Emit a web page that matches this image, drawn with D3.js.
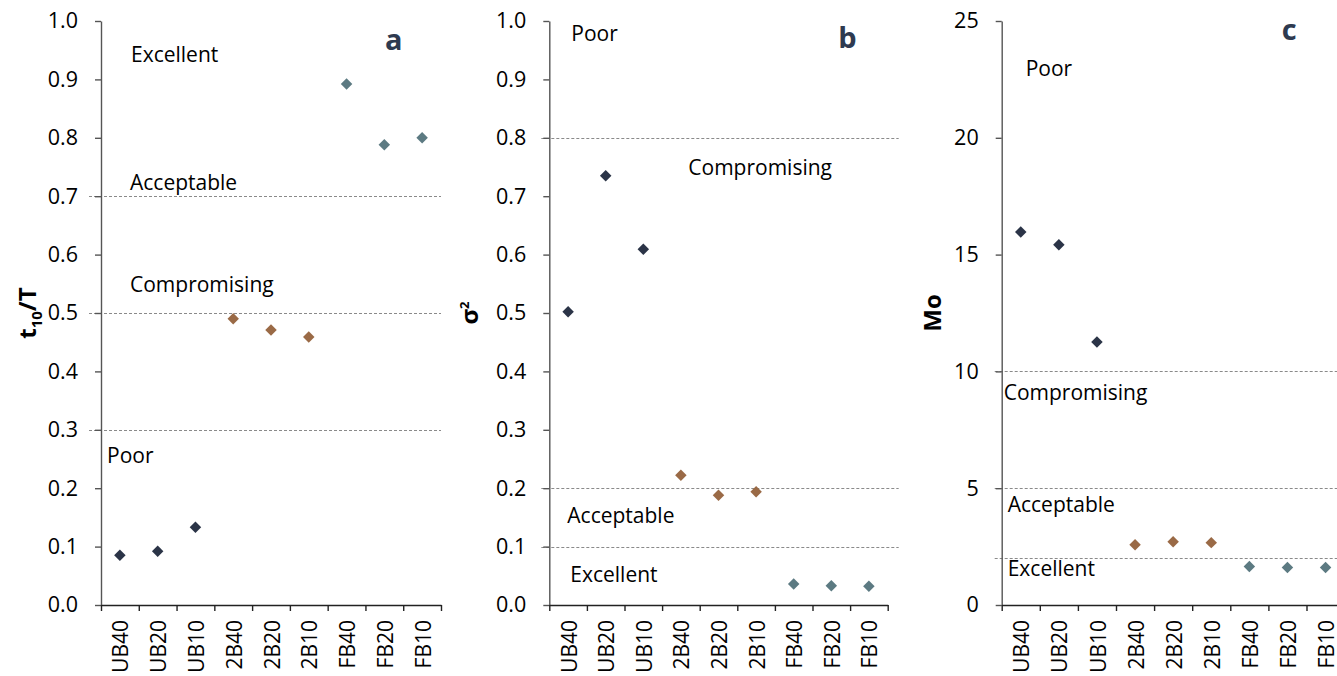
<!DOCTYPE html>
<html>
<head>
<meta charset="utf-8">
<script src="https://cdn.jsdelivr.net/npm/d3@7"></script>
<style>
  html, body { margin: 0; padding: 0; background: #fff; }
  svg { display: block; font-family: "Open Sans", "Noto Sans", sans-serif; }
</style>
</head>
<body>
<svg id="chart" width="1337" height="676"></svg>
<script>
// Sample codes along the x axis (same order in all three panels)
const categories = ["UB40", "UB20", "UB10", "2B40", "2B20", "2B10", "FB40", "FB20", "FB10"];
// Baffle configuration group for each sample
const groups = ["UB", "UB", "UB", "2B", "2B", "2B", "FB", "FB", "FB"];

// Panel a: t10/T
const t10Ratio = [0.085, 0.092, 0.133, 0.490, 0.471, 0.459, 0.892, 0.788, 0.800];
// Panel b: dimensionless variance
const variance = [0.502, 0.735, 0.609, 0.222, 0.188, 0.194, 0.036, 0.033, 0.032];
// Panel c: Morrill index
const moIndex = [15.97, 15.42, 11.26, 2.58, 2.71, 2.67, 1.65, 1.61, 1.61];

// Tick values
const ratioTicks = [0, 0.1, 0.2, 0.3, 0.4, 0.5, 0.6, 0.7, 0.8, 0.9, 1.0];
const moTicks = [0, 5, 10, 15, 20, 25];

// Class boundaries (dashed lines)
const t10Limits = [0.7, 0.5, 0.3];
const varianceLimits = [0.8, 0.2, 0.1];
const moLimits = [10, 5, 2];

// Class names and the value at which each name sits
const t10ZoneNames = ["Excellent", "Acceptable", "Compromising", "Poor"];
const t10ZoneAt = [0.930, 0.710, 0.536, 0.244];
const varianceZoneNames = ["Poor", "Compromising", "Acceptable", "Excellent"];
const varianceZoneAt = [0.965, 0.736, 0.140, 0.040];
const moZoneNames = ["Poor", "Compromising", "Acceptable", "Excellent"];
const moZoneAt = [22.66, 8.78, 3.99, 1.25];

const groupColor = { UB: "#2b3447", "2B": "#9a6a46", FB: "#5c7a82" };

const svg = d3.select("#chart");
const plotTop = 21, plotBottom = 605;

const panels = [
  {
    letter: "a", values: t10Ratio, domain: [0, 1], ticks: ratioTicks, fmt: d3.format(".1f"),
    limits: t10Limits, zoneNames: t10ZoneNames, zoneAt: t10ZoneAt,
    zoneDx: [30, 29, 29, 6], letterDx: 284, letterAt: 0.950,
    x0: 101, x1: 441, lineFrom: -12, lineTo: 0, titleX: 28, title: "t10"
  },
  {
    letter: "b", values: variance, domain: [0, 1], ticks: ratioTicks, fmt: d3.format(".1f"),
    limits: varianceLimits, zoneNames: varianceZoneNames, zoneAt: varianceZoneAt,
    zoneDx: [22, 139, 18, 21], letterDx: 289, letterAt: 0.953,
    x0: 549.3, x1: 887.7, lineFrom: -8, lineTo: 11, titleX: 470, title: "sigma"
  },
  {
    letter: "c", values: moIndex, domain: [0, 25], ticks: moTicks, fmt: d3.format("d"),
    limits: moLimits, zoneNames: moZoneNames, zoneAt: moZoneAt,
    zoneDx: [24, 2, 6, 6], letterDx: 280, letterAt: 24.19,
    x0: 1001.7, x1: 1344.6, lineFrom: -7, lineTo: 0, titleX: 933, title: "Mo"
  }
];

panels.forEach(p => {
  const g = svg.append("g");
  const y = d3.scaleLinear().domain(p.domain).range([plotBottom, plotTop]);
  const xBand = d3.scaleBand().domain(categories).range([p.x0, p.x1]);
  const xEdge = d3.scaleLinear().domain([0, categories.length]).range([p.x0, p.x1]);

  // class boundaries
  g.append("g").selectAll("line").data(p.limits).join("line")
    .attr("x1", p.x0 + p.lineFrom).attr("x2", p.x1 + p.lineTo)
    .attr("y1", d => Math.round(y(d)) + 0.5).attr("y2", d => Math.round(y(d)) + 0.5)
    .attr("stroke", "#8a8a8a").attr("stroke-width", 1).attr("stroke-dasharray", "3,2");

  // y axis
  const yAxis = g.append("g").attr("transform", `translate(${p.x0},0)`)
    .call(d3.axisLeft(y).tickValues(p.ticks).tickFormat(p.fmt).tickSize(6).tickSizeOuter(0).tickPadding(17));
  yAxis.select(".domain").attr("stroke", "#555").attr("stroke-width", 1.4);
  yAxis.selectAll(".tick line").attr("stroke", "#555").attr("stroke-width", 1.4);
  yAxis.selectAll(".tick text").attr("font-size", 21.5).attr("fill", "#000")
    .attr("font-family", "'Open Sans', sans-serif");

  // x axis: tick marks between categories
  const xTicks = g.append("g").attr("transform", `translate(0,${plotBottom})`)
    .call(d3.axisBottom(xEdge).tickValues(d3.range(categories.length + 1)).tickFormat("").tickSize(6).tickSizeOuter(0));
  xTicks.select(".domain").attr("stroke", "#222").attr("stroke-width", 1.4);
  xTicks.selectAll(".tick line").attr("stroke", "#222").attr("stroke-width", 1.4);

  // x axis: rotated category labels
  const xLabels = g.append("g").attr("transform", `translate(0,${plotBottom})`)
    .call(d3.axisBottom(xBand).tickSize(0));
  xLabels.select(".domain").remove();
  xLabels.selectAll(".tick text")
    .attr("transform", "rotate(-90)")
    .attr("x", -15).attr("y", 1).attr("dy", "0.36em")
    .attr("text-anchor", "end")
    .attr("font-size", 21).attr("fill", "#000")
    .attr("font-family", "'Open Sans', sans-serif");

  // zone names
  g.append("g").selectAll("text").data(p.zoneNames).join("text")
    .attr("x", (d, i) => p.x0 + p.zoneDx[i])
    .attr("y", (d, i) => y(p.zoneAt[i]))
    .attr("font-size", 21).attr("fill", "#000")
    .text(d => d);

  // panel letter
  g.append("text")
    .attr("x", p.x0 + p.letterDx).attr("y", y(p.letterAt))
    .attr("font-size", 29).attr("font-weight", "bold").attr("fill", "#2e3a50")
    .text(p.letter);

  // y title
  const cy = (plotTop + plotBottom) / 2;
  const t = g.append("text")
    .attr("transform", `translate(${p.titleX},${cy}) rotate(-90)`)
    .attr("text-anchor", "middle").attr("dy", "0.35em")
    .attr("font-size", 24).attr("font-weight", "bold").attr("fill", "#000");
  if (p.title === "t10") {
    t.append("tspan").text("t");
    t.append("tspan").attr("font-size", 15).attr("dy", "0.35em").text("10");
    t.append("tspan").attr("dy", "-0.23em").text("/T");
  } else if (p.title === "sigma") {
    t.append("tspan").text("σ");
    t.append("tspan").attr("font-size", 13).attr("dy", "-0.75em").text("2");
  } else {
    t.text("Mo");
  }

  // markers
  const diamond = d3.symbol().type(d3.symbolSquare).size(66);
  g.append("g").selectAll("path").data(p.values).join("path")
    .attr("d", diamond)
    .attr("transform", (d, i) => `translate(${xBand(categories[i]) + xBand.bandwidth() / 2},${y(d)}) rotate(45)`)
    .attr("fill", (d, i) => groupColor[groups[i]]);
});
</script>
</body>
</html>
